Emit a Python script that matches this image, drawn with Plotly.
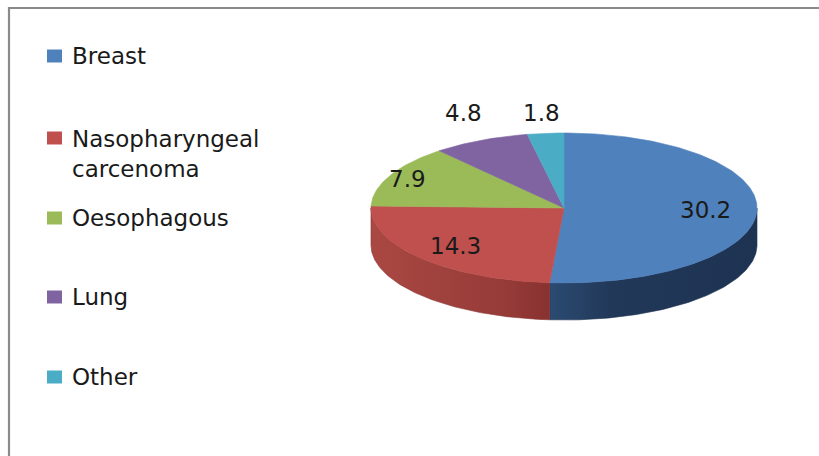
import numpy as np
import plotly.graph_objects as go

# ---- data ----
categories = ["Breast", "Nasopharyngeal<br>carcenoma", "Oesophagous", "Lung", "Other"]
values = [30.2, 14.3, 7.9, 4.8, 1.8]
value_labels = ["30.2", "14.3", "7.9", "4.8", "1.8"]

# ---- style ----
top_colors = ["#4f81bd", "#c0504d", "#9bbb59", "#8064a2", "#4bacc6"]
side_scales = [
    [[0, "#2b4b72"], [0.3, "#213858"], [1, "#1e3352"]],
    [[0, "#aa4843"], [0.75, "#963b38"], [1, "#883230"]],
    [[0, "#7d9a45"], [1, "#64803a"]],
    [[0, "#654d85"], [1, "#523d6d"]],
    [[0, "#3a8ca3"], [1, "#2f7388"]],
]
label_r = [0.735, 0.76, 0.9, None, None]   # None -> label outside, above the pie
FONT = "DejaVu Sans"
W, H = 819, 456
CX, CY, RX, RY, DEPTH = 564, 208, 193, 75, 37
LEGEND_Y = [56, 138, 218, 297, 377]

fig = go.Figure()

total = float(sum(values))
cum = np.concatenate([[0.0], np.cumsum(values)]) / total
angles = cum * 2 * np.pi


def arc(a, b, dy=0.0):
    n = max(4, int(abs(b - a) / (np.pi / 180)) + 2)
    t = np.linspace(a, b, n)
    return CX + RX * np.sin(t), CY - RY * np.cos(t) + dy


# side walls (front half only)
for i in range(len(values)):
    a, b = angles[i], angles[i + 1]
    lo, hi = max(a, np.pi / 2), min(b, 3 * np.pi / 2)
    if hi <= lo:
        continue
    xt, yt = arc(lo, hi)
    xb, yb = arc(lo, hi, DEPTH)
    xs = np.concatenate([xt, xb[::-1], xt[:1]])
    ys = np.concatenate([yt, yb[::-1], yt[:1]])
    fig.add_trace(go.Scatter(
        x=xs, y=ys, mode="lines", fill="toself",
        line=dict(width=0.6, color=side_scales[i][-1][1]),
        fillgradient=dict(type="horizontal", colorscale=side_scales[i],
                          start=float(xs.min()), stop=float(xs.max())),
        hoverinfo="skip", showlegend=False))

# top face slices
for i in range(len(values)):
    a, b = angles[i], angles[i + 1]
    xa, ya = arc(a, b)
    xs = np.concatenate([[CX], xa, [CX]])
    ys = np.concatenate([[CY], ya, [CY]])
    fig.add_trace(go.Scatter(
        x=xs, y=ys, mode="lines", fill="toself",
        fillcolor=top_colors[i], line=dict(width=0.6, color=top_colors[i]),
        name=categories[i].replace("<br>", " "),
        hoverinfo="name", showlegend=False))

annotations = []
# value labels
for i, v in enumerate(values):
    mid = (angles[i] + angles[i + 1]) / 2
    if label_r[i] is not None:
        r = label_r[i]
        lx = CX + RX * r * np.sin(mid)
        ly = CY - RY * r * np.cos(mid)
    else:
        lx = CX + RX * 1.2 * np.sin(mid)
        ly = CY - RY * 1.27
    annotations.append(dict(x=lx, y=ly, xref="x", yref="y", text=value_labels[i],
                            showarrow=False, xanchor="center", yanchor="middle",
                            font=dict(family=FONT, size=23, color="#1a1a1a")))

shapes = [dict(type="path", path=f"M 9 {H} L 9 8 L {W} 8", xref="x", yref="y",
               line=dict(color="#8a8a8a", width=2.2))]

# legend
for i, cat in enumerate(categories):
    yc = LEGEND_Y[i]
    shapes.append(dict(type="rect", xref="x", yref="y", x0=47, x1=62, y0=yc - 6.5, y1=yc + 6.5,
                       fillcolor=top_colors[i], line=dict(width=0)))
    nlines = cat.count("<br>") + 1
    ty = yc + (nlines - 1) * 31 / 2
    annotations.append(dict(x=70, y=ty, xref="x", yref="y", text=cat, showarrow=False,
                            xanchor="left", yanchor="middle", align="left",
                            font=dict(family=FONT, size=23, color="#1a1a1a")))

fig.update_layout(
    width=W, height=H, margin=dict(l=0, r=0, t=0, b=0),
    paper_bgcolor="white", plot_bgcolor="white",
    xaxis=dict(range=[0, W], visible=False, fixedrange=True),
    yaxis=dict(range=[H, 0], visible=False, fixedrange=True),
    shapes=shapes, annotations=annotations, showlegend=False,
)

fig.write_html("out.html")
